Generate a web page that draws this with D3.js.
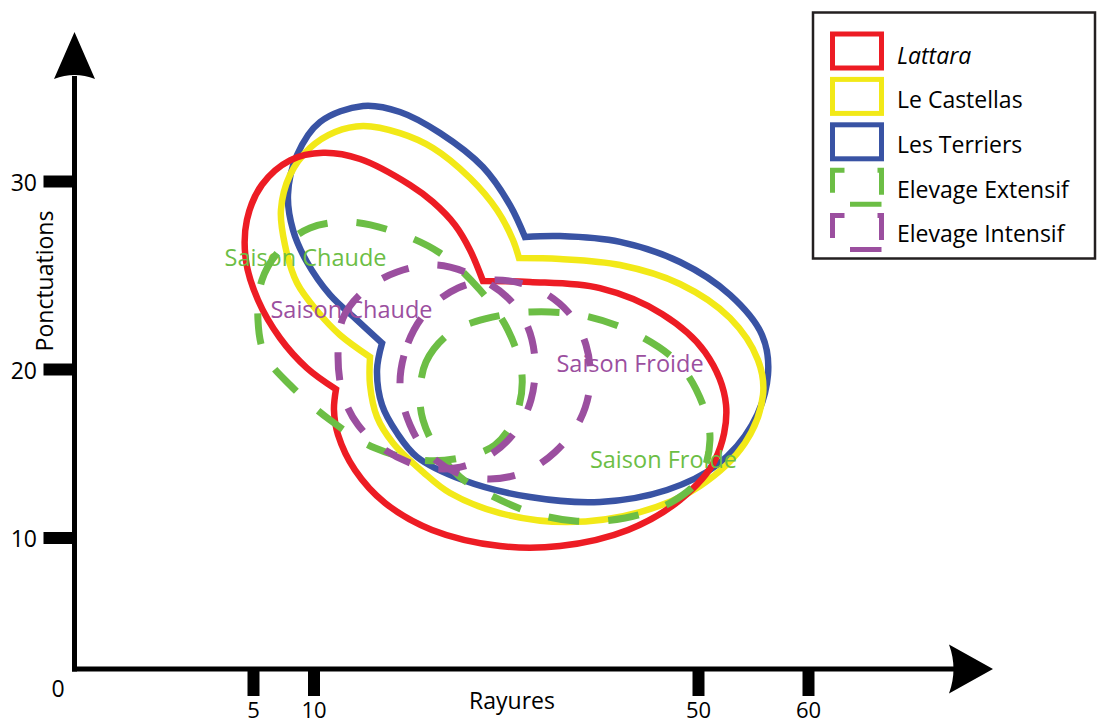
<!DOCTYPE html>
<html><head><meta charset="utf-8">
<script src="https://cdn.jsdelivr.net/npm/d3@7"></script>
<style>
html,body{margin:0;padding:0;background:#fff;}
svg{display:block;font-family:"Open Sans",sans-serif;}
</style></head><body>
<svg id="chart" width="1098" height="726"></svg>
<script>
// ---------- data ----------
const xTicks = [5, 10, 50, 60];
const yTicks = [10, 20, 30];
const xTitle = "Rayures";
const yTitle = "Ponctuations";
const seriesNames = ["Lattara", "Le Castellas", "Les Terriers", "Elevage Extensif", "Elevage Intensif"];
const seasonLabels = ["Saison Chaude", "Saison Froide"];

// outlines: [rayures, ponctuations]
const lattaraUpper = [[12.34,18.8],[9.46,20.05],[7.23,21.65],[5.41,23.67],[4.80,25.8],[4.83,27.93],[5.74,29.8],[8.06,31.1],[11.0,31.5],[14.84,31.17],[20.04,29.79],[22.43,28.88],[24.72,27.66],[26.28,26.33],[27.63,24.68]];
const lattaraLower = [[27.63,24.68],[32.52,24.63],[39.8,24.3],[46.26,22.93],[50.64,20.9],[52.55,17.86],[51.55,14.6],[48.13,12.23],[42.72,10.45],[35.64,9.35],[29.4,9.35],[22.33,10.45],[17.44,12.05],[14.32,14.0],[12.55,16.1],[12.13,17.57],[12.34,18.8]];

const castellasUpper = [[15.88,20.64],[12.76,21.81],[10.47,23.03],[8.64,24.57],[7.64,26.6],[7.31,28.46],[8.06,30.32],[9.71,31.76],[12.24,32.61],[15.16,32.93],[19.0,32.55],[22.43,31.76],[26.28,30.16],[29.09,28.46],[30.75,26.86],[31.38,25.9]];
const castellasLower = [[31.38,25.9],[35.64,25.85],[41.89,25.53],[48.13,24.52],[52.91,22.71],[55.45,20.48],[55.91,18.46],[54.27,15.61],[50.18,13.06],[43.96,11.51],[36.37,10.92],[29.4,11.45],[24.2,12.64],[21.39,13.89],[18.27,15.61],[16.61,17.15],[15.88,19.05],[15.88,20.64]];

const terriersUpper = [[17.13,21.38],[14.53,22.6],[11.72,23.94],[9.46,25.69],[8.31,27.39],[7.89,29.26],[8.64,31.38],[10.68,33.14],[15.16,33.99],[19.0,33.67],[23.16,32.55],[27.63,30.74],[30.44,28.72],[32.0,27.02]];
const terriersLower = [[32.0,27.02],[35.64,27.07],[41.89,26.76],[48.13,25.69],[52.91,23.94],[55.82,21.81],[56.36,19.64],[54.91,16.68],[51.73,14.3],[46.77,12.82],[39.8,12.11],[32.52,12.4],[25.55,13.41],[20.77,14.78],[18.69,16.2],[17.13,17.86],[16.61,19.94],[17.13,21.38]];

const extensifChaude = [[5.41,22.61],[5.74,24.73],[7.23,26.33],[9.71,27.5],[13.8,27.82],[18.48,27.29],[23.16,26.17],[27.32,24.2],[30.23,22.07],[31.69,19.64],[31.07,17.27],[28.88,15.49],[25.24,14.72],[21.08,14.6],[16.4,15.31],[11.72,16.97],[8.06,19.05],[5.99,20.74]];
const extensifFroide = [[21.08,18.46],[21.7,20.37],[24.2,21.91],[27.84,22.66],[32.52,23.03],[38.24,22.82],[43.96,21.76],[48.13,20.21],[50.45,17.86],[51.09,15.79],[50.18,13.53],[47.09,12.05],[42.41,11.16],[37.2,10.98],[32.52,11.51],[28.36,12.52],[25.24,13.59],[22.85,15.19],[21.39,16.97]];

const intensifChaude = [[12.55,20.74],[13.07,22.71],[15.36,24.2],[18.69,25.16],[22.85,25.53],[27.01,24.89],[30.23,23.78],[32.21,22.34],[33.04,20.48],[32.62,18.16],[30.96,16.26],[28.36,14.9],[24.72,14.12],[21.08,14.24],[17.44,15.19],[14.63,16.68],[13.07,18.46]];
const intensifFroide = [[19.0,19.05],[19.83,21.38],[21.91,23.14],[25.03,24.31],[28.88,24.73],[33.04,24.31],[36.48,23.03],[38.35,21.28],[38.76,19.05],[37.72,16.97],[35.12,15.07],[32.0,13.89],[28.36,13.47],[24.72,13.89],[21.81,15.07],[20.04,16.68]];

// label anchors (centre x, baseline y) in data units
const labelExtChaude = [9.34, 25.48];
const labelIntChaude = [13.95, 22.71];
const labelIntFroide = [42.93, 19.82];
const labelExtFroide = [46.41, 14.12];

// ---------- styles ----------
const C = {red:"#ED1C24", yellow:"#F2E918", blue:"#3953A4", green:"#6CBE45", purple:"#9B4F9F"};
const svg = d3.select("#chart");

const x = d3.scaleLinear().domain([0, 5, 10, 50, 60]).range([74.5, 253, 313.5, 698, 808]);
const y = d3.scaleLinear().domain([0, 10, 20, 30]).range([669, 537.5, 369, 181]);

// ---------- axes ----------
const gx = svg.append("g").attr("transform", `translate(0,${y(0)})`)
  .call(d3.axisBottom(x).tickValues(xTicks).tickSize(27).tickSizeOuter(0).tickPadding(6.5));
gx.select(".domain").remove();
gx.selectAll(".tick line").attr("stroke", "#000").attr("stroke-width", 12);
gx.selectAll(".tick text").attr("font-size", 22).attr("font-family", "Open Sans").attr("fill", "#000");

const gy = svg.append("g").attr("transform", `translate(${x(0)},0)`)
  .call(d3.axisLeft(y).tickValues(yTicks).tickSize(31).tickSizeOuter(0).tickPadding(6.5));
gy.select(".domain").remove();
gy.selectAll(".tick line").attr("stroke", "#000").attr("stroke-width", 12);
gy.selectAll(".tick text").attr("font-size", 23).attr("font-family", "Open Sans").attr("fill", "#000").attr("dy", "0.4em");

// axis lines with arrows
const x0 = x(0), y0 = y(0);
svg.append("line").attr("x1", x0).attr("y1", y0 + 2.5).attr("x2", x0).attr("y2", 76)
  .attr("stroke", "#000").attr("stroke-width", 5);
svg.append("line").attr("x1", x0 - 2.5).attr("y1", y0).attr("x2", 960).attr("y2", y0)
  .attr("stroke", "#000").attr("stroke-width", 5);
svg.append("path").attr("d", `M${x0},32 L${x0+20.5},79 Q${x0},71 ${x0-20.5},79 Z`).attr("fill", "#000");
svg.append("path").attr("d", `M993,${y0} L949,${y0-24.5} Q958,${y0} 949,${y0+24.5} Z`).attr("fill", "#000");

svg.append("text").attr("x", 58).attr("y", 697).attr("text-anchor", "middle")
  .attr("font-size", 23).text("0");
svg.append("text").attr("x", 512).attr("y", 709).attr("text-anchor", "middle")
  .attr("font-size", 23).text(xTitle);
svg.append("text").attr("transform", "translate(53,281) rotate(-90)").attr("text-anchor", "middle")
  .attr("font-size", 23).text(yTitle);

// ---------- shapes ----------
const open = d3.line().x(d => x(d[0])).y(d => y(d[1])).curve(d3.curveCatmullRom.alpha(0.5));
const closed = d3.line().x(d => x(d[0])).y(d => y(d[1])).curve(d3.curveCatmullRomClosed.alpha(0.5));
function blob(upper, lower) {
  const a = open(upper), b = open(lower);
  return a + b.replace(/^M[^A-Za-z]*/, "") + "Z";
}
const sw = 6.5;
svg.append("path").attr("d", blob(terriersUpper, terriersLower)).attr("fill", "none")
  .attr("stroke", C.blue).attr("stroke-width", sw).attr("stroke-linejoin", "miter");
svg.append("path").attr("d", blob(castellasUpper, castellasLower)).attr("fill", "none")
  .attr("stroke", C.yellow).attr("stroke-width", sw).attr("stroke-linejoin", "miter");
svg.append("path").attr("d", blob(lattaraUpper, lattaraLower)).attr("fill", "none")
  .attr("stroke", C.red).attr("stroke-width", sw).attr("stroke-linejoin", "miter");

// labels
function label(pos, txt, col) {
  svg.append("text").attr("x", x(pos[0])).attr("y", y(pos[1])).attr("text-anchor", "middle")
    .attr("font-size", 23.5).attr("fill", col).text(txt);
}
label(labelExtChaude, seasonLabels[0], C.green);
label(labelIntChaude, seasonLabels[0], C.purple);
label(labelIntFroide, seasonLabels[1], C.purple);
label(labelExtFroide, seasonLabels[1], C.green);

[extensifChaude, extensifFroide].forEach(pts => {
  svg.append("path").attr("d", closed(pts)).attr("fill", "none").attr("stroke", C.green)
    .attr("stroke-width", 7).attr("stroke-dasharray", "31,29");
});
[intensifChaude, intensifFroide].forEach(pts => {
  svg.append("path").attr("d", closed(pts)).attr("fill", "none").attr("stroke", C.purple)
    .attr("stroke-width", 7).attr("stroke-dasharray", "28,29");
});

// ---------- legend ----------
const legend = svg.append("g");
legend.append("rect").attr("x", 813).attr("y", 12.5).attr("width", 282).attr("height", 246)
  .attr("fill", "#fff").attr("stroke", "#231F20").attr("stroke-width", 2.5);
const legColors = [C.red, C.yellow, C.blue, C.green, C.purple];
seriesNames.forEach((name, i) => {
  const r = legend.append("rect").attr("x", 832.5).attr("y", 34 + i * 45.4).attr("width", 49).attr("height", 34)
    .attr("fill", "none").attr("stroke", legColors[i]).attr("stroke-width", 5);
  if (i >= 3) r.attr("stroke-dasharray", "28.5,9.5,31.5,29,34.5,33").attr("stroke-dashoffset", 121);
  legend.append("text").attr("x", 897).attr("y", 63.5 + i * 44.7).attr("font-size", 23)
    .attr("font-style", i === 0 ? "italic" : "normal").attr("fill", "#000").text(name);
});
</script>
</body></html>
